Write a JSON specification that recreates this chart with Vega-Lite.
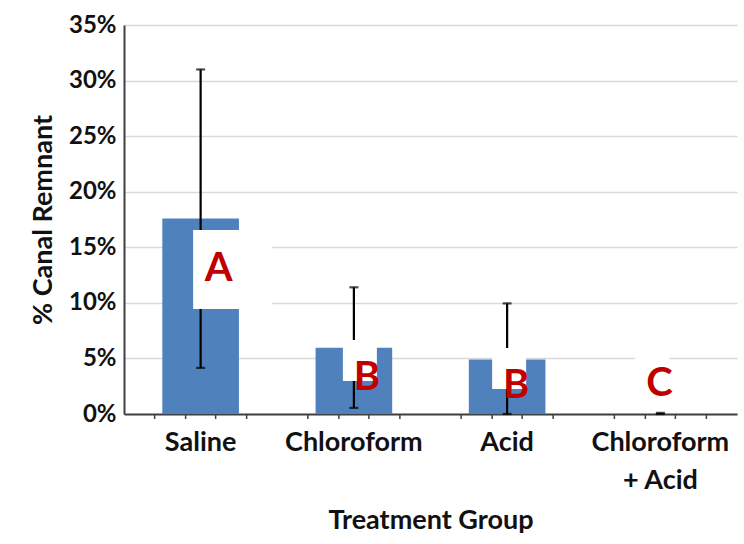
{
  "$schema": "https://vega.github.io/schema/vega-lite/v6.json",
  "width": 613,
  "height": 389,
  "autosize": {"type": "none"},
  "padding": {"left": 124, "top": 25, "right": 7, "bottom": 130},
  "background": "white",
  "config": {"view": {"stroke": null}, "font": "Lato"},
  "datasets": {
    "groups": [
      {"group": "Saline", "mean": 17.6, "lo": 4.15, "hi": 31.0},
      {"group": "Chloroform", "mean": 5.95, "lo": 0.55, "hi": 11.4},
      {"group": "Acid", "mean": 4.9, "lo": 0, "hi": 9.95},
      {"group": "Chloroform + Acid", "mean": 0, "lo": 0, "hi": 0.1}
    ],
    "letters": [
      {"group": "Saline", "letter": "A", "label_y": 11.97, "box_top": 16.56, "box_bottom": 9.45},
      {"group": "Chloroform", "letter": "B", "label_y": 2.2, "box_top": 6.66, "box_bottom": 2.97},
      {"group": "Acid", "letter": "B", "label_y": 1.42, "box_top": 5.94, "box_bottom": 2.25},
      {"group": "Chloroform + Acid", "letter": "C", "label_y": 1.6, "box_top": 5.58, "box_bottom": 1.89}
    ]
  },
  "encoding": {
    "x": {
      "field": "group",
      "type": "nominal",
      "sort": ["Saline", "Chloroform", "Acid", "Chloroform + Acid"],
      "scale": {"paddingInner": 0.5, "paddingOuter": 0.25},
      "axis": {
        "title": "Treatment Group",
        "titleFont": "Lato",
        "titleFontSize": 27,
        "titleFontWeight": "bold",
        "titleColor": "#111111",
        "titlePadding": 14,
        "labelFont": "Lato",
        "labelFontSize": 27,
        "labelFontWeight": "bold",
        "labelColor": "#111111",
        "labelAngle": 0,
        "labelPadding": 15,
        "labelLineHeight": 38,
        "labelLimit": 0,
        "labelExpr": "datum.value == 'Chloroform + Acid' ? ['Chloroform', '+ Acid'] : datum.value",
        "ticks": false,
        "domainColor": "#404040",
        "domainWidth": 2
      }
    }
  },
  "layer": [
    {
      "data": {"name": "groups"},
      "mark": {"type": "bar", "color": "#4F81BD"},
      "encoding": {
        "y": {
          "field": "mean",
          "type": "quantitative",
          "scale": {"domain": [0, 35], "nice": false},
          "title": "% Canal Remnant",
          "axis": {
            "title": "% Canal Remnant",
            "titleFont": "Lato",
            "titleFontSize": 27,
            "titleFontWeight": "bold",
            "titleColor": "#111111",
            "titlePadding": 11,
            "values": [0, 5, 10, 15, 20, 25, 30, 35],
            "labelExpr": "datum.value + '%'",
            "labelFont": "Lato",
            "labelFontSize": 24,
            "labelFontWeight": "bold",
            "labelColor": "#111111",
            "labelPadding": 8,
            "ticks": false,
            "grid": true,
            "gridColor": "#D9D9D9",
            "gridWidth": 1.5,
            "domainColor": "#404040",
            "domainWidth": 2
          }
        }
      }
    },
    {
      "data": {"name": "groups"},
      "mark": {"type": "rule", "color": "black", "strokeWidth": 2.2},
      "encoding": {
        "y": {"field": "lo", "type": "quantitative", "title": "% Canal Remnant"},
        "y2": {"field": "hi"}
      }
    },
    {
      "data": {"name": "groups"},
      "mark": {"type": "tick", "color": "black", "size": 9, "thickness": 2.2},
      "encoding": {"y": {"field": "lo", "type": "quantitative", "title": "% Canal Remnant"}}
    },
    {
      "data": {"name": "groups"},
      "mark": {"type": "tick", "color": "black", "size": 9, "thickness": 2.2},
      "encoding": {"y": {"field": "hi", "type": "quantitative", "title": "% Canal Remnant"}}
    },
    {
      "data": {"name": "letters"},
      "transform": [{"filter": "datum.group == 'Saline'"}],
      "mark": {"type": "bar", "color": "white", "width": 79, "xOffset": 32},
      "encoding": {
        "y": {"field": "box_top", "type": "quantitative", "title": "% Canal Remnant"},
        "y2": {"field": "box_bottom"}
      }
    },
    {
      "data": {"name": "letters"},
      "transform": [{"filter": "datum.group != 'Saline'"}],
      "mark": {
        "type": "bar",
        "color": "white",
        "width": 34,
        "xOffset": {"expr": "datum.group == 'Chloroform' ? 6 : datum.group == 'Acid' ? 2 : -8"}
      },
      "encoding": {
        "y": {"field": "box_top", "type": "quantitative", "title": "% Canal Remnant"},
        "y2": {"field": "box_bottom"}
      }
    },
    {
      "data": {"name": "letters"},
      "mark": {
        "type": "text",
        "font": "Lato",
        "fontWeight": "bold",
        "fontSize": 40,
        "color": "#C00000",
        "align": "center",
        "baseline": "alphabetic",
        "dx": {"expr": "datum.group == 'Saline' ? 18 : datum.group == 'Chloroform' ? 13 : datum.group == 'Acid' ? 9 : -1"}
      },
      "encoding": {
        "y": {"field": "label_y", "type": "quantitative", "title": "% Canal Remnant"},
        "text": {"field": "letter"}
      }
    },
    {
      "data": {"name": "groups"},
      "mark": {"type": "rule", "color": "#404040", "strokeWidth": 1.5, "xOffset": -46, "y2Offset": 5},
      "encoding": {"y": {"datum": 0, "title": "% Canal Remnant"}, "y2": {"datum": 0}}
    },
    {
      "data": {"name": "groups"},
      "mark": {"type": "rule", "color": "#404040", "strokeWidth": 1.5, "xOffset": -15, "y2Offset": 5},
      "encoding": {"y": {"datum": 0, "title": "% Canal Remnant"}, "y2": {"datum": 0}}
    },
    {
      "data": {"name": "groups"},
      "mark": {"type": "rule", "color": "#404040", "strokeWidth": 1.5, "xOffset": 15, "y2Offset": 5},
      "encoding": {"y": {"datum": 0, "title": "% Canal Remnant"}, "y2": {"datum": 0}}
    },
    {
      "data": {"name": "groups"},
      "mark": {"type": "rule", "color": "#404040", "strokeWidth": 1.5, "xOffset": 46, "y2Offset": 5},
      "encoding": {"y": {"datum": 0, "title": "% Canal Remnant"}, "y2": {"datum": 0}}
    }
  ]
}
